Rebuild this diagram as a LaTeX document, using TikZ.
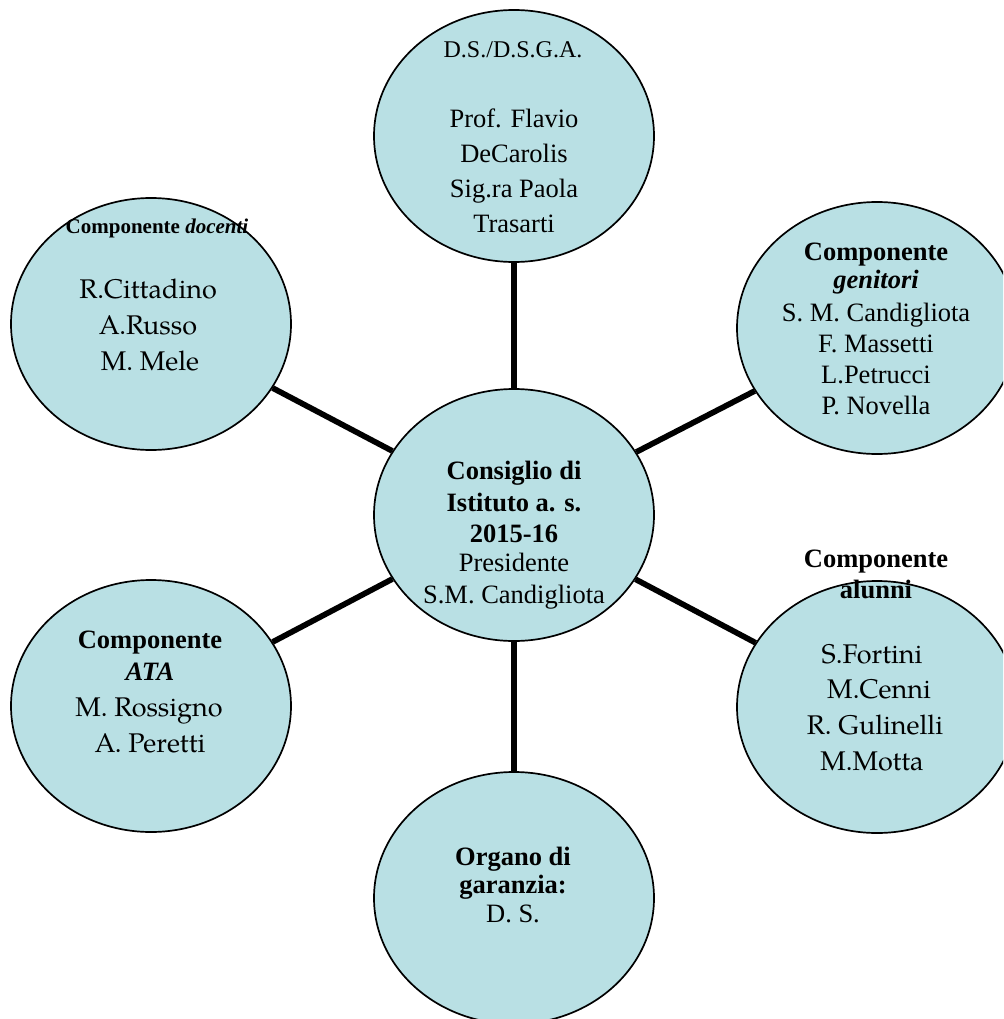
\documentclass[tikz,border=0pt]{standalone}
\usepackage{fontspec}
\setmainfont{Liberation Serif}
\newfontfamily\pal{TeX Gyre Pagella}
\usetikzlibrary{shapes.geometric}
\definecolor{bub}{RGB}{185,224,228}
\begin{document}
\begin{tikzpicture}[x=1pt,y=-1pt,
  bubble/.style={ellipse,draw=black,line width=1.7pt,fill=bub,minimum width=280pt,minimum height=252pt,inner sep=0pt},
  link/.style={line width=5.7pt},
  t/.style={anchor=base,inner sep=0pt,font=\fontsize{26.5}{30}\selectfont},
  tb/.style={anchor=base,inner sep=0pt,font=\fontsize{26.5}{30}\selectfont\bfseries},
  tp/.style={anchor=base,inner sep=0pt,font=\fontsize{27}{30}\selectfont\pal}]
\useasboundingbox (0,0) rectangle (1003,1019);
\clip (0,0) rectangle (1003,1019);
\fill[white] (0,0) rectangle (1003,1019);
% bubbles
\node[bubble] (ds) at (514,136) {};
\node[bubble] (ci) at (514,515) {};
\node[bubble] (doc) at (151,324) {};
\node[bubble] (gen) at (877,328) {};
\node[bubble] (alu) at (877,707) {};
\node[bubble] (ata) at (151,706) {};
\node[bubble] (org) at (514,898) {};
% connectors
\draw[link] (ci) -- (ds);
\draw[link] (ci) -- (doc);
\draw[link] (ci) -- (gen);
\draw[link] (ci) -- (alu);
\draw[link] (ci) -- (ata);
\draw[link] (ci) -- (org);
% top
\node[t,font=\fontsize{24}{28}\selectfont] (ds0) at (513,58) {D.S./D.S.G.A.};
\node[t] (ds1) at (514,128) {Prof. Flavio};
\node[t] (ds2) at (514,163) {DeCarolis};
\node[t] (ds3) at (514,197) {Sig.ra Paola};
\node[t] (ds4) at (514,232) {Trasarti};
% center
\node[tb] (ci1) at (514,479) {Consiglio di};
\node[tb] (ci2) at (514,511) {Istituto a. s.};
\node[tb] (ci3) at (514,542) {2015-16};
\node[t] (ci4) at (514,571) {Presidente};
\node[t] (ci5) at (514,603) {S.M. Candigliota};
% docenti
\node[anchor=base,inner sep=0pt,font=\fontsize{21}{24}\selectfont\bfseries] (doc0) at (157,233) {Componente \textit{docenti}};
\node[tp] (doc1) at (148,298) {R.Cittadino};
\node[tp] (doc2) at (148,334) {A.Russo};
\node[tp] (doc3) at (150,370) {M. Mele};
% genitori
\node[tb] (gen0) at (876,260) {Componente};
\node[tb] (gen1) at (876,288) {\textit{genitori}};
\node[t] (gen2) at (876,321) {S. M. Candigliota};
\node[t] (gen3) at (876,352) {F. Massetti};
\node[t] (gen4) at (876,383) {L.Petrucci};
\node[t] (gen5) at (876,414) {P. Novella};
% alunni
\node[tb] (alu0) at (876,567) {Componente};
\node[tb] (alu1) at (876,598) {alunni};
\node[tp] (alu2) at (872,663) {S.Fortini};
\node[tp] (alu3) at (879,698) {M.Cenni};
\node[tp] (alu4) at (875,734) {R. Gulinelli};
\node[tp] (alu5) at (872,770) {M.Motta};
% ATA
\node[tb] (ata0) at (150,648) {Componente};
\node[tb] (ata1) at (150,680) {\textit{ATA}};
\node[tp] (ata2) at (149,716) {M. Rossigno};
\node[tp] (ata3) at (150,752) {A. Peretti};
% organo
\node[tb] (org0) at (513,865) {Organo di};
\node[tb] (org1) at (513,893) {garanzia:};
\node[t] (org2) at (513,922) {D. S.};
\end{tikzpicture}
\end{document}
